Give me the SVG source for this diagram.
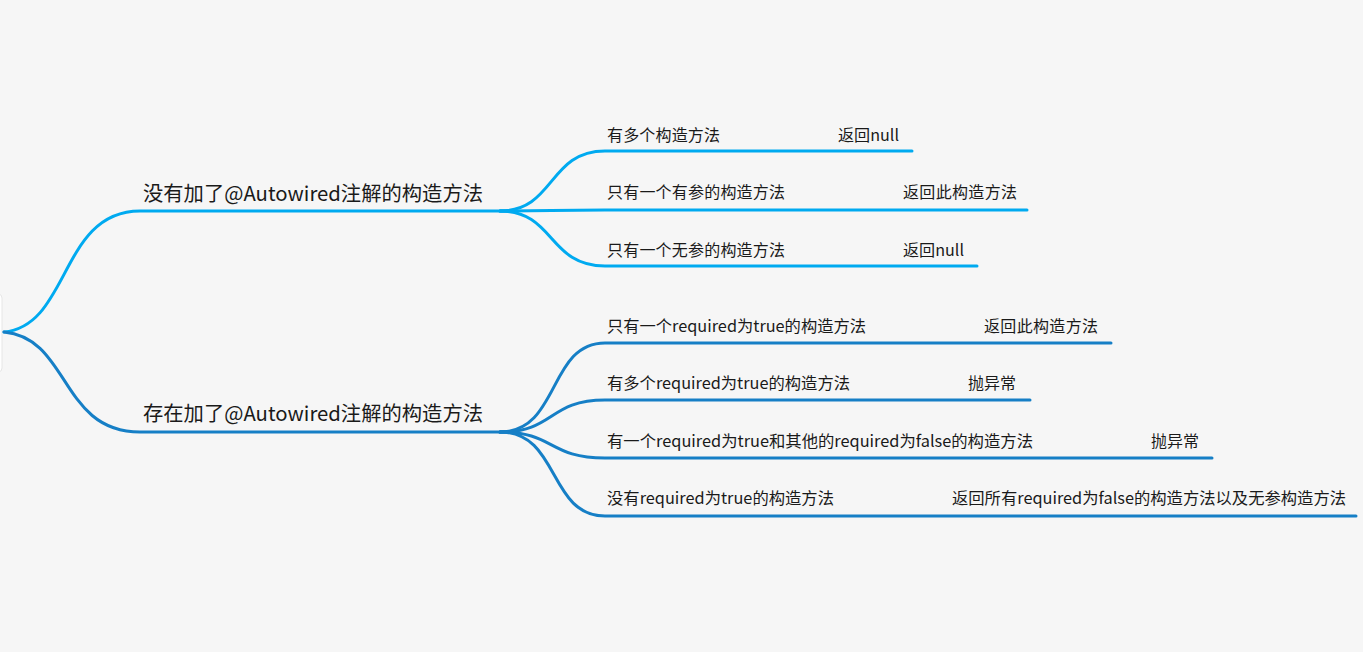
<svg xmlns="http://www.w3.org/2000/svg" width="1363" height="652" viewBox="0 0 1363 652">
<style>
.bg{fill:#f6f6f6}
.l1{font-family:"Noto Sans CJK SC","Microsoft YaHei",sans-serif;font-size:20.3px;fill:#1a1a1a}
.l2{font-family:"Noto Sans CJK SC","Microsoft YaHei",sans-serif;font-size:16px;fill:#1a1a1a}
.ca{fill:none;stroke:#00aaf0;stroke-width:3;stroke-linecap:round}
.cb{fill:none;stroke:#167fc6;stroke-width:3;stroke-linecap:round}
</style>
<rect class="bg" x="0" y="0" width="1363" height="652"/>
<g id="root"><rect x="-100" y="294" width="102" height="78" rx="4" fill="#ffffff" stroke="#e6e6e6"/></g>
<g id="connectors">
<path class="ca" d="M4,332 C70,326 60,211 140,211 L508,211"/>
<path class="cb" d="M4,332 C70,338 60,432 140,432 L508,432"/>
<path class="ca" d="M500,211 C555,211 548,151 605,151 L912,151"/>
<path class="ca" d="M500,211 C555,211 548,210 605,210 L1027,210"/>
<path class="ca" d="M500,211 C555,211 548,266 605,266 L977,266"/>
<path class="cb" d="M500,432 C560,432 548,343 605,343 L1111,343"/>
<path class="cb" d="M500,432 C555,432 548,400 605,400 L1030,400"/>
<path class="cb" d="M500,432 C555,432 548,458 605,458 L1212,458"/>
<path class="cb" d="M500,432 C560,432 548,516 605,516 L1356,516"/>
</g>
<g id="n1"><text class="l1" x="143" y="201" textLength="340" lengthAdjust="spacingAndGlyphs">没有加了@Autowired注解的构造方法</text></g>
<g id="n2"><text class="l1" x="143" y="421" textLength="340" lengthAdjust="spacingAndGlyphs">存在加了@Autowired注解的构造方法</text></g>
<g id="n1a"><text class="l2" x="607" y="141" textLength="113">有多个构造方法</text></g>
<g id="n1a1"><text class="l2" x="838" y="141" textLength="61" lengthAdjust="spacingAndGlyphs">返回null</text></g>
<g id="n1b"><text class="l2" x="607" y="198" textLength="178">只有一个有参的构造方法</text></g>
<g id="n1b1"><text class="l2" x="903" y="198" textLength="114">返回此构造方法</text></g>
<g id="n1c"><text class="l2" x="607" y="256" textLength="178">只有一个无参的构造方法</text></g>
<g id="n1c1"><text class="l2" x="903" y="256" textLength="61" lengthAdjust="spacingAndGlyphs">返回null</text></g>
<g id="n2a"><text class="l2" x="607" y="332" textLength="259" lengthAdjust="spacingAndGlyphs">只有一个required为true的构造方法</text></g>
<g id="n2a1"><text class="l2" x="984" y="332" textLength="114">返回此构造方法</text></g>
<g id="n2b"><text class="l2" x="607" y="389" textLength="243" lengthAdjust="spacingAndGlyphs">有多个required为true的构造方法</text></g>
<g id="n2b1"><text class="l2" x="968" y="389" textLength="48">抛异常</text></g>
<g id="n2c"><text class="l2" x="607" y="447" textLength="426" lengthAdjust="spacingAndGlyphs">有一个required为true和其他的required为false的构造方法</text></g>
<g id="n2c1"><text class="l2" x="1151" y="447" textLength="48">抛异常</text></g>
<g id="n2d"><text class="l2" x="607" y="504" textLength="227" lengthAdjust="spacingAndGlyphs">没有required为true的构造方法</text></g>
<g id="n2d1"><text class="l2" x="952" y="504" textLength="394" lengthAdjust="spacingAndGlyphs">返回所有required为false的构造方法以及无参构造方法</text></g>
</svg>
